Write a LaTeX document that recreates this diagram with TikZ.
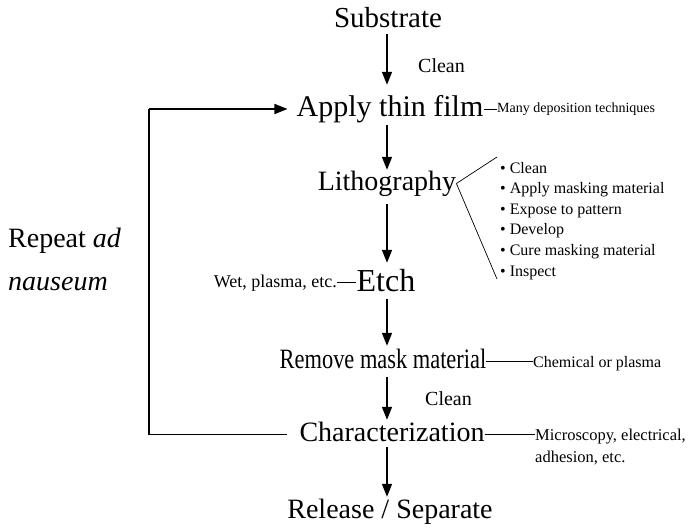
\documentclass[tikz,border=0pt]{standalone}
\usepackage{fontspec}
\setmainfont{Liberation Serif}
\usetikzlibrary{arrows.meta}
\begin{document}
\begin{tikzpicture}[x=1pt,y=-1pt,
  big/.style={font=\fontsize{28}{30}\selectfont, inner sep=0pt, anchor=base, text height=19pt, text depth=6pt},
  mid/.style={font=\fontsize{20}{22}\selectfont, inner sep=0pt, anchor=base west},
  note/.style={font=\fontsize{16}{18}\selectfont, inner sep=0pt, anchor=base west},
  arr/.style={line width=1.6pt, -{Triangle[length=13pt,width=10pt]}},
  loopline/.style={line width=1.6pt},
  side/.style={line width=0.7pt}
]
\useasboundingbox (0,0) rectangle (690,527);
\coordinate (colx) at (387,0);
\coordinate (lx) at (149,0);

% main column
\node[big, font=\fontsize{29}{31}\selectfont] (sub) at (388,28) {Substrate};
\node[mid] (clean1) at (418,72) {Clean};
\node[big, font=\fontsize{30}{32}\selectfont, text height=21pt, text depth=7pt] (app) at (390,116) {Apply thin film};
\node[note, font=\fontsize{14}{16}\selectfont] (dep) at (497,112) {Many deposition techniques};
\node[big] (lit) at (387,190) {Lithography};
\node[big, font=\fontsize{32}{34}\selectfont, text height=21pt] (etch) at (386,291) {Etch};
\node[note, font=\fontsize{18}{20}\selectfont, anchor=base east] (wet) at (337,287) {Wet, plasma, etc.};
\node[big] (rem) at (383,368) {\scalebox{0.8}[1]{Remove mask material}};
\node[note] (chem) at (533,367) {Chemical or plasma};
\node[mid] (clean2) at (425,405) {Clean};
\node[big] (char) at (392,441) {Characterization};
\node[note, font=\fontsize{16.5}{18}\selectfont] (mic) at (535,440) {Microscopy, electrical,};
\node[note, font=\fontsize{16.5}{18}\selectfont] (mic2) at (535,462) {adhesion, etc.};
\node[big] (rel) at (390,518) {Release / Separate};

% loop label
\node[big, anchor=base west] (rep) at (8,247) {Repeat \textit{ad}};
\node[big, anchor=base west] (rep2) at (8,290) {\textit{nauseum}};

% lithography steps
\node[note] (b1) at (500,173) {\textbullet\ Clean};
\node[note] (b2) at (500,193.6) {\textbullet\ Apply masking material};
\node[note] (b3) at (500,214.2) {\textbullet\ Expose to pattern};
\node[note] (b4) at (500,234.8) {\textbullet\ Develop};
\node[note] (b5) at (500,255.4) {\textbullet\ Cure masking material};
\node[note] (b6) at (500,276) {\textbullet\ Inspect};
\coordinate (brup) at (497,157);
\coordinate (brdn) at (497,279);

% main arrows
\draw[arr, shorten >=10pt] (sub.south -| colx) -- (app.north -| colx);
\draw[arr, shorten <=2pt, shorten >=1pt] (app.south -| colx) -- (lit.north -| colx);
\draw[arr, shorten <=8pt, shorten >=7pt] (lit.south -| colx) -- (etch.north -| colx);
\draw[arr, shorten <=2pt, shorten >=3pt] (etch.south -| colx) -- (rem.north -| colx);
\draw[arr, shorten <=3pt, shorten >=2pt] (rem.south -| colx) -- (char.north -| colx);
\draw[arr, shorten >=2pt] (char.south -| colx) -- (rel.north -| colx);

% repeat loop
\draw[loopline] ([xshift=-12pt]char.west) -- (char.west -| lx) -- (app.west -| lx);
\draw[arr] (app.west -| lx) -- ([xshift=-9pt]app.west);

% side notes
\draw[side] (app.east) -- (app.east -| dep.west);
\draw[side] (lit.east) -- (brup);
\draw[side] (lit.east) -- (brdn);
\draw[side] (wet.east) -- (wet.east -| etch.west);
\draw[side] (rem.east) -- (rem.east -| chem.west);
\draw[side] (char.east) -- (char.east -| mic.west);
\end{tikzpicture}
\end{document}
